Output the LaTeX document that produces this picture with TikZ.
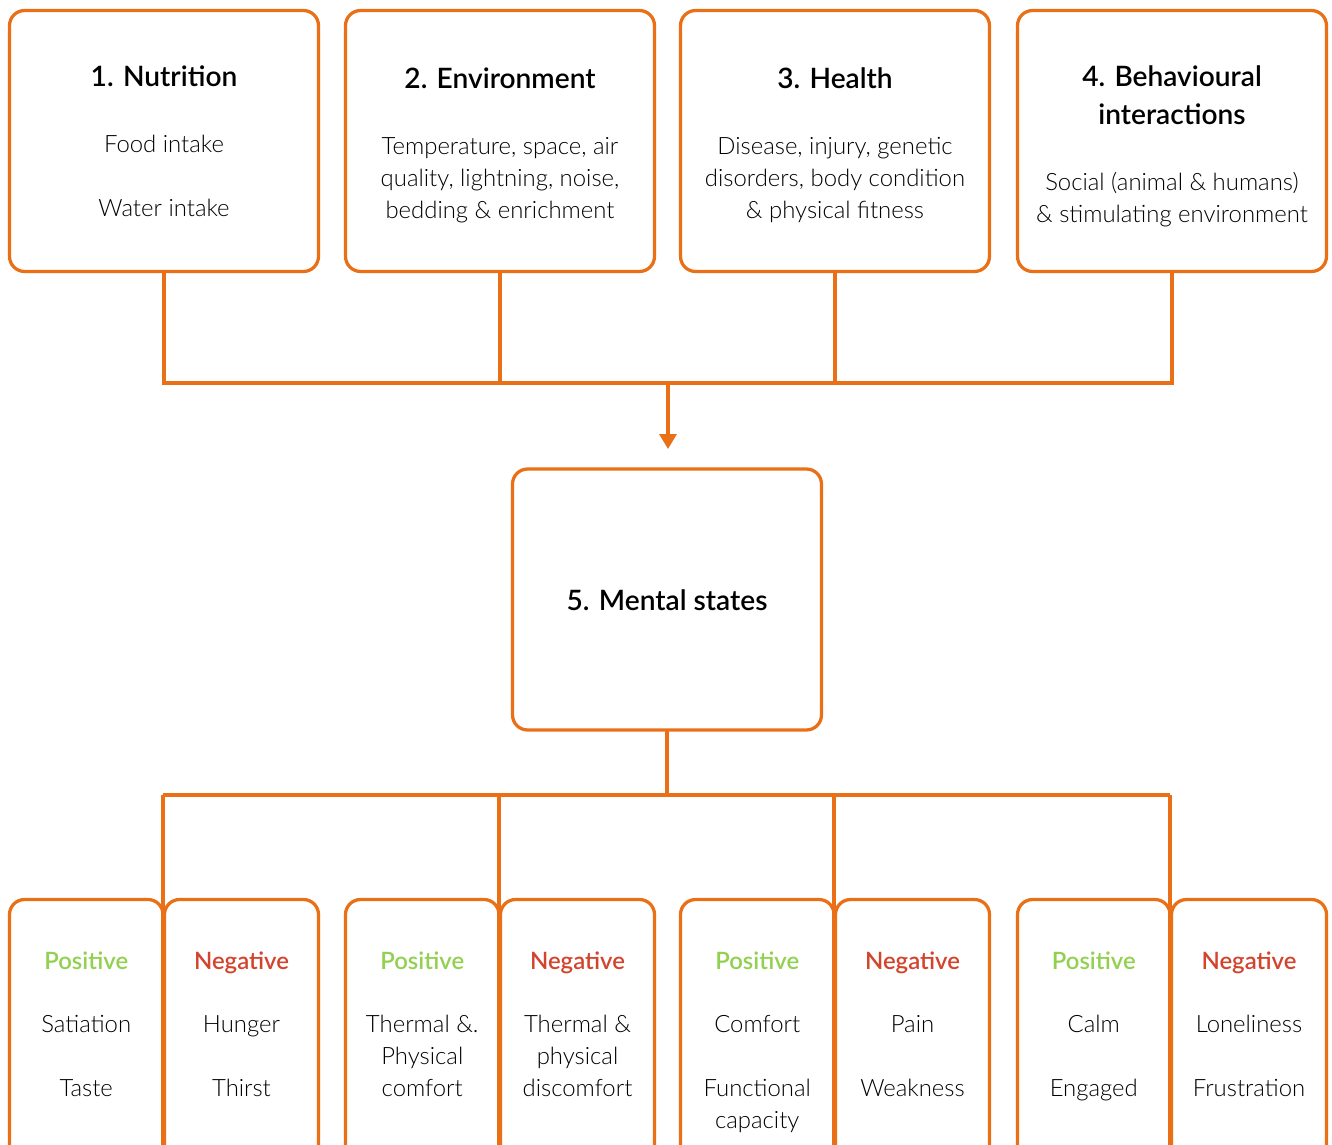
\documentclass[tikz,border=0pt]{standalone}
\usepackage{fontspec}
\setmainfont{Lato}[UprightFont=* Light, BoldFont=* Semibold]
\usetikzlibrary{arrows.meta, positioning}

\definecolor{wforange}{RGB}{234,112,24}
\definecolor{wfgreen}{RGB}{146,208,80}
\definecolor{wfred}{RGB}{211,68,45}

\tikzset{
  topbox/.style={draw=wforange, line width=0.065cm, rounded corners=0.3cm,
    minimum width=6.18cm, minimum height=5.22cm, inner sep=0pt, outer sep=0pt},
  pairbox/.style={draw=wforange, line width=0.065cm, rounded corners=0.3cm,
    minimum height=7cm, inner sep=0pt, outer sep=0pt},
  link/.style={draw=wforange, line width=0.065cm},
  title/.style={font=\fontsize{16}{21.6}\selectfont\bfseries, align=center, text depth=0.25em},
  body/.style={font=\fontsize{13.6}{18.2}\selectfont, align=center, text depth=0.25em},
  tag/.style={font=\fontsize{13.6}{18.2}\selectfont\bfseries, text depth=0.25em},
}

\begin{document}
\begin{tikzpicture}[x=0.02cm, y=-0.02cm]
\useasboundingbox (0,0) rectangle (1332,1145);
\clip (0,0) rectangle (1332,1145);

% the four inputs
\node[topbox] (nut) at (164,141) {};
\node[topbox] (env) at (500,141) {};
\node[topbox] (hea) at (835,141) {};
\node[topbox] (beh) at (1172,141) {};

\node[title] (nutT) at (164,78.5) {1. Nutrition};
\node[body] (nutB) at (164,178) {Food intake\\[18pt]Water intake};

\node[title] (envT) at (500,80.5) {2. Environment};
\node[body] (envB) at (500,180.5) {Temperature, space, air\\quality, lightning, noise,\\bedding \& enrichment};

\node[title] (heaT) at (835,80.5) {3. Health};
\node[body] (heaB) at (835,180.5) {Disease, injury, genetic\\disorders, body condition\\\& physical fitness};

\node[title] (behT) at (1172,97) {4. Behavioural\\interactions};
\node[body] (behB) at (1172,199.5) {Social (animal \& humans)\\\& stimulating environment};

% mental state
\coordinate (tbar) at (668,383);
\coordinate (bbar) at (666,795);
\node[topbox] (mental) at (667,599.5) {};
\node[title] (mentalT) at (667,602.5) {5. Mental states};

\draw[link] (nut.south) -- (nut.south |- tbar) -- (beh.south |- tbar) -- (beh.south);
\draw[link] (env.south) -- (env.south |- tbar);
\draw[link] (hea.south) -- (hea.south |- tbar);
\draw[link, -{Triangle[width=0.34cm, length=0.3cm]}, shorten >=0.4cm]
  (tbar) -- (tbar |- mental.north);

% positive / negative pairs
\foreach \i/\l/\j/\r in {1/9.5/163/318.5, 2/345.5/499/654.5, 3/680.5/834/989.5, 4/1017.5/1170/1326.5} {
  \pgfmathsetmacro\pw{(\j-\l)*0.02}
  \pgfmathsetmacro\nw{(\r-\j-1.5)*0.02}
  \node[pairbox, minimum width=\pw cm] (pos\i) at ({(\l+\j)/2},1074.5) {};
  \node[pairbox, minimum width=\nw cm] (neg\i) at ({(\j+1.5+\r)/2},1074.5) {};
  \node[tag, text=wfgreen] (posT\i) at (pos\i.north |- 0,962.5) {Positive};
  \node[tag, text=wfred] (negT\i) at (neg\i.north |- 0,962.5) {Negative};
}

\draw[link] (mental.south) -- (mental.south |- bbar);
\draw[link] (bbar -| pos1.east) -- (bbar -| pos4.east);
\foreach \i in {1,...,4} {
  \draw[link] (bbar -| pos\i.east) -- (pos\i.south east);
}

\node[body] (posB1) at (pos1.north |- 0,1058) {Satiation\\[18pt]Taste};
\node[body] (negB1) at (neg1.north |- 0,1058) {Hunger\\[18pt]Thirst};
\node[body] (posB2) at (pos2.north |- 0,1058) {Thermal \&.\\Physical\\comfort};
\node[body] (negB2) at (neg2.north |- 0,1058) {Thermal \&\\physical\\discomfort};
\node[body] (posB3) at (pos3.north |- 0,1074) {Comfort\\[18pt]Functional\\capacity};
\node[body] (negB3) at (neg3.north |- 0,1058) {Pain\\[18pt]Weakness};
\node[body] (posB4) at (pos4.north |- 0,1058) {Calm\\[18pt]Engaged};
\node[body] (negB4) at (neg4.north |- 0,1058) {Loneliness\\[18pt]Frustration};
\end{tikzpicture}
\end{document}
